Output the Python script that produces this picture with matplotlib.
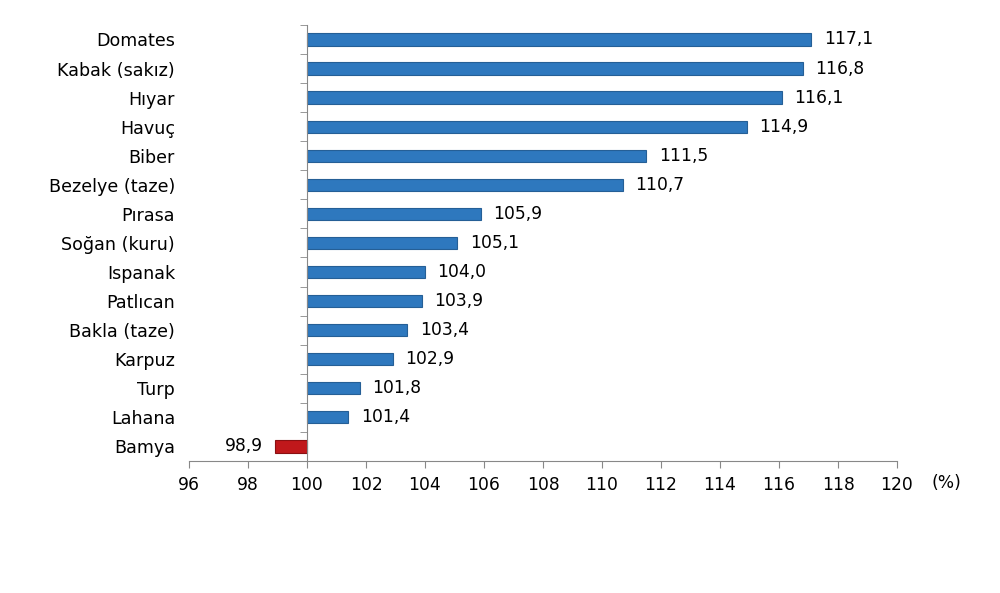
import matplotlib
matplotlib.use('Agg')
from matplotlib import pyplot as plt
from matplotlib.ticker import FixedLocator

plt.rcParams['font.family'] = ['DejaVu Sans']

# Data
products = ['Domates', 'Kabak (sakız)', 'Hıyar', 'Havuç', 'Biber', 'Bezelye (taze)',
            'Pırasa', 'Soğan (kuru)', 'Ispanak', 'Patlıcan', 'Bakla (taze)',
            'Karpuz', 'Turp', 'Lahana', 'Bamya']
values = [117.1, 116.8, 116.1, 114.9, 111.5, 110.7, 105.9, 105.1, 104.0,
          103.9, 103.4, 102.9, 101.8, 101.4, 98.9]
xticks = [96, 98, 100, 102, 104, 106, 108, 110, 112, 114, 116, 118, 120]

fs = 12.3     # numbers
fs_cat = 12.6  # category names
fig = plt.figure(figsize=(10, 5.93), dpi=100)
ax = fig.add_axes([0.189, 0.2226, 0.708, 0.7354])

base = 100
pos = list(range(len(products)))
for i, v in zip(pos, values):
    if v >= base:
        ax.barh(i, v - base, left=base, height=0.42, color='#2E78BE', edgecolor='#255F96', linewidth=0.8)
        ax.text(v + 0.42, i, f'{v:.1f}'.replace('.', ','), va='center', ha='left', fontsize=fs)
    else:
        ax.barh(i, v - base, left=base, height=0.42, color='#C0181B', edgecolor='#8A1012', linewidth=0.8)
        ax.text(v - 0.38, i, f'{v:.1f}'.replace('.', ','), va='center', ha='right', fontsize=fs)

ax.set_xlim(96, 120)
ax.set_ylim(len(products) - 0.5, -0.5)
ax.set_xticks(xticks)
ax.set_xticklabels([str(t) for t in xticks])

ax.set_yticks(pos)
ax.set_yticklabels(products)
ax.yaxis.set_minor_locator(FixedLocator([p - 0.5 for p in pos] + [len(products) - 0.5]))

for s in ['top', 'right']:
    ax.spines[s].set_visible(False)
ax.spines['left'].set_position(('data', base))
ax.spines['left'].set_color('#888888')
ax.spines['bottom'].set_color('#888888')

ax.tick_params(axis='y', which='major', length=0, pad=95, labelsize=fs_cat)
ax.tick_params(axis='y', which='minor', length=5, color='#888888')
ax.tick_params(axis='x', length=5, color='#888888', pad=6, labelsize=fs)

ax.text(1.07, -0.05, '(%)', transform=ax.transAxes, fontsize=fs, ha='center', va='center')

fig.savefig('out.png', dpi=100)
